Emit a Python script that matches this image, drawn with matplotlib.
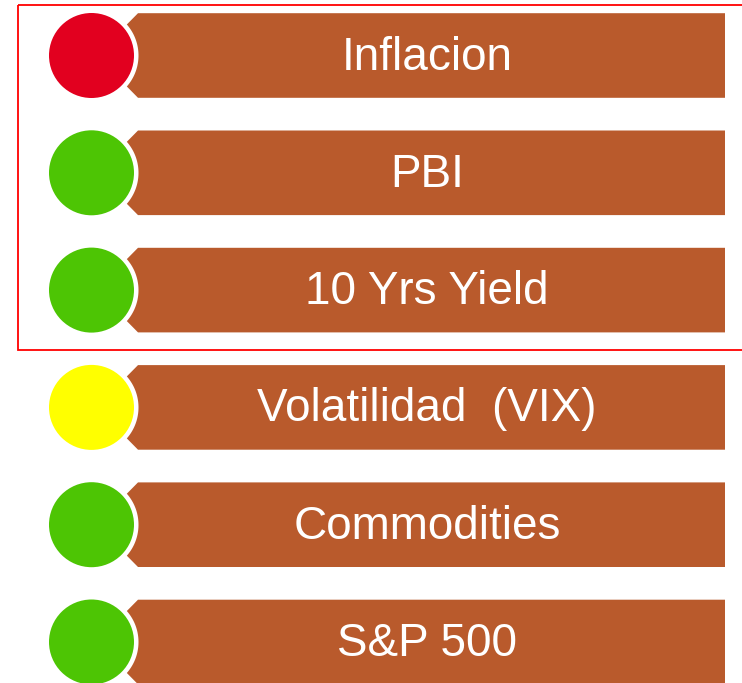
import numpy as np
import matplotlib.pyplot as plt
from matplotlib.patches import Circle, Polygon, Rectangle

# Indicadores y su estado (semaforo)
indicadores = ['Inflacion', 'PBI', '10 Yrs Yield', 'Volatilidad  (VIX)', 'Commodities', 'S&P 500']
estado = ['rojo', 'verde', 'verde', 'amarillo', 'verde', 'verde']

colores = {'rojo': '#E2001F', 'verde': '#4DC504', 'amarillo': '#FFFF00'}
marron = '#B95A2C'

W, H = 742, 683
fig = plt.figure(figsize=(W / 100, H / 100), dpi=100)
ax = fig.add_axes([0, 0, 1, 1])
ax.set_xlim(0, W)
ax.set_ylim(H, 0)
ax.axis('off')

cx, r = 91.5, 42.5       # circulo
y0, paso = 55.5, 117.3   # centro de la primera fila y separacion
half = 42.3              # media altura de la banda
x_izq, x_der = 138, 725
r_hueco = 47

for i, (txt, est) in enumerate(zip(indicadores, estado)):
    cy = y0 + i * paso
    top, bot = cy - half, cy + half
    # muesca concava alrededor del circulo
    a0 = np.arcsin(31 / r_hueco)
    ang = np.linspace(-a0, a0, 40)
    arco = [(cx + r_hueco * np.cos(a), cy + r_hueco * np.sin(a)) for a in ang]
    pts = [(x_der, top), (x_izq, top)] + arco + [(x_izq, bot), (x_der, bot)]
    ax.add_patch(Polygon(pts, closed=True, facecolor=marron, edgecolor='none'))
    ax.add_patch(Circle((cx, cy), r, facecolor=colores[est], edgecolor='none'))
    ax.text(427, cy + 14, txt, color='white', fontsize=33, ha='center', va='baseline',
            family=['Liberation Sans', 'DejaVu Sans'])

# recuadro rojo sobre las tres primeras filas
ax.add_patch(Rectangle((18, 5), 740, 345, fill=False, edgecolor='#FF0000', linewidth=1.3))

fig.savefig('out.png', dpi=100)
